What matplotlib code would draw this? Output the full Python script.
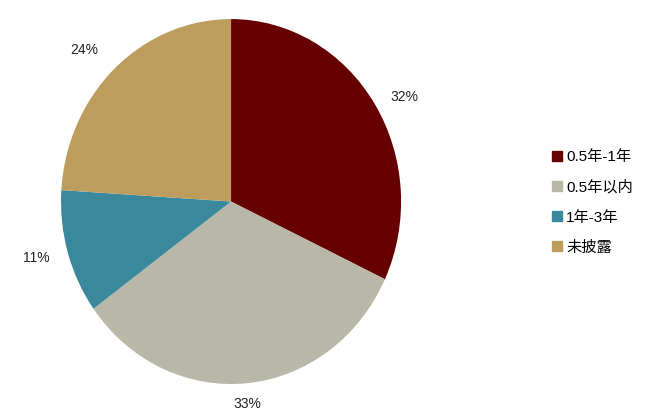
import matplotlib
matplotlib.use("Agg")
import matplotlib.pyplot as plt
import numpy as np
from matplotlib.lines import Line2D

plt.rcParams['font.family'] = ['Liberation Sans', 'Noto Sans CJK SC', 'DejaVu Sans']

categories = ['0.5年-1年', '0.5年以内', '1年-3年', '未披露']
values = [32, 33, 11, 24]
colors = ['#660000', '#B9B8A8', '#3A889C', '#BD9D5E']
# label offsets from wedge edge, in pixels (dx, dy up)
label_offsets = [(30, 7), (0, -21), (-31, -6), (-30, 19)]

fig = plt.figure(figsize=(6.49, 4.19), dpi=100)
ax = fig.add_axes([0.094, 0.0835, 0.524, 0.871])
wedges, texts = ax.pie(values, colors=colors, startangle=90, counterclock=False,
                       wedgeprops=dict(linewidth=0))
ax.set_xlim(-1, 1)
ax.set_ylim(-1, 1)
ax.set_aspect('auto')

total = sum(values)
for w, v, off in zip(wedges, values, label_offsets):
    mid = np.deg2rad((w.theta1 + w.theta2) / 2)
    ax.annotate(f'{v / total * 100:.0f}%', xy=(np.cos(mid), np.sin(mid)),
                xytext=off, textcoords='offset pixels', ha='center', va='center',
                fontsize=10, color='#222222', annotation_clip=False)

handles = [Line2D([0], [0], marker='s', linestyle='none', markersize=7,
                  markerfacecolor=c, markeredgecolor=c) for c in colors]
fig.legend(handles, categories, loc='center left', bbox_to_anchor=(0.842, 0.517),
           frameon=False, fontsize=11, handlelength=0.6, handletextpad=0.3,
           labelspacing=1.05, borderaxespad=0)
fig.savefig('out.png', dpi=100)
